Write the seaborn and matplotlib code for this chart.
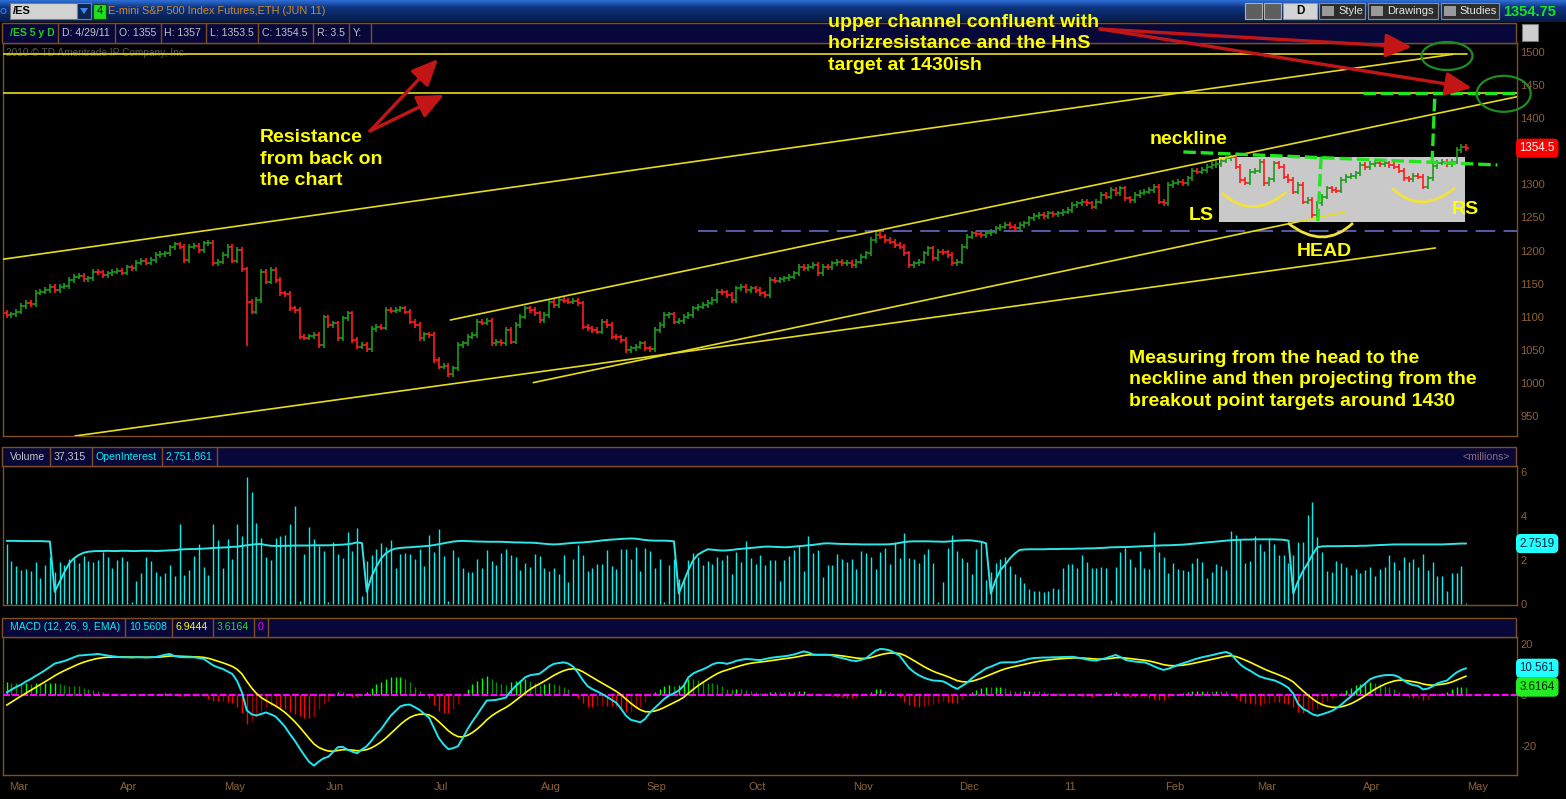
import matplotlib.pyplot as plt
import matplotlib.patches as mpatches
import matplotlib.transforms as mtransforms
from matplotlib.colors import LinearSegmentedColormap
from matplotlib.path import Path
import numpy as np
import pandas as pd
import seaborn as sns

W, H = 1566, 799

# ---------------- data ----------------
month_labels = ["Mar", "Apr", "May", "Jun", "Jul", "Aug", "Sep", "Oct", "Nov", "Dec",
                "11", "Feb", "Mar", "Apr", "May"]
# bars per month, first entry = last Feb 2010 session
month_lengths = [1, 23, 22, 21, 22, 23, 22, 21, 22, 22, 21, 22, 19, 22, 22]

first_open = 1106.0
close = [
    1102.9, 1104.0, 1107.9, 1116.5, 1121.5, 1119.5, 1136.6, 1138.1, 1140.6, 1145.6,
    1140.6, 1145.6, 1146.8, 1155.7, 1160.7, 1161.7, 1156.7, 1158.2, 1168.3, 1167.2,
    1163.2, 1165.7, 1168.3, 1169.8, 1166.8, 1174.8, 1173.3, 1181.8, 1184.8, 1181.8,
    1185.9, 1193.4, 1194.9, 1195.8, 1205.0, 1209.5, 1206.0, 1185.9, 1206.0, 1207.0,
    1201.0, 1211.0, 1212.2, 1180.8, 1183.3, 1193.4, 1206.0, 1184.8, 1201.0, 1171.8,
    1123.0, 1107.9, 1125.5, 1168.3, 1153.2, 1170.8, 1155.7, 1135.6, 1134.4, 1113.0,
    1110.5, 1070.2, 1068.9, 1070.9, 1072.8, 1057.7, 1099.4, 1087.8, 1090.3, 1067.7,
    1097.9, 1105.4, 1065.2, 1055.2, 1057.7, 1051.1, 1081.8, 1085.3, 1084.0, 1110.5,
    1109.3, 1111.2, 1113.0, 1107.9, 1092.9, 1087.8, 1067.7,
    1073.8, 1072.8, 1035.1, 1025.0, 1026.2, 1013.9, 1022.5, 1057.7, 1060.2,
    1070.3, 1072.8, 1092.9, 1091.6, 1093.8, 1060.2, 1062.7, 1060.2, 1080.3, 1062.7,
    1087.9, 1100.4, 1113.0, 1110.5, 1105.4, 1095.4, 1102.9, 1123.0, 1118.0, 1125.6,
    1124.4, 1123.0, 1124.0, 1120.5, 1085.3, 1082.8, 1080.3, 1077.8, 1092.9, 1087.9,
    1070.3, 1069.2, 1065.2, 1050.2, 1052.7, 1055.2, 1060.2, 1052.7, 1051.6, 1080.3,
    1087.9, 1102.9, 1103.9, 1092.9, 1094.1, 1100.4, 1102.9, 1113.0, 1115.5, 1118.0,
    1121.5, 1125.6, 1138.1, 1136.9, 1133.1, 1125.6, 1143.1, 1145.7, 1140.6, 1143.1,
    1140.6, 1135.6, 1133.1, 1155.7, 1154.5, 1156.6, 1158.2, 1160.7, 1165.8, 1175.8,
    1173.3, 1175.8, 1178.3, 1165.8, 1175.8, 1174.6, 1180.8, 1183.4, 1180.8,
    1181.9, 1178.3, 1183.4, 1190.9, 1195.9, 1216.0, 1223.6, 1221.1,
    1216.0, 1213.5, 1208.5, 1206.0, 1195.9, 1178.3, 1180.8, 1183.3, 1195.9, 1203.4,
    1188.4, 1198.4, 1197.2, 1193.4, 1180.8, 1183.3, 1206.0, 1221.0, 1226.1, 1224.9,
    1223.6, 1226.1, 1228.6, 1233.6, 1236.1, 1238.6, 1236.1, 1233.6, 1238.6, 1241.1,
    1248.7, 1252.2, 1253.7, 1252.2, 1256.2, 1255.2, 1256.2, 1258.7, 1261.3, 1268.8,
    1271.3, 1273.8, 1271.3,
    1266.3, 1273.8, 1283.9, 1281.3, 1291.4, 1286.4, 1293.9, 1278.8, 1276.3, 1283.9,
    1287.4, 1288.9, 1291.4, 1296.4, 1273.8, 1271.3, 1298.9, 1302.5, 1304.0, 1301.5,
    1309.0, 1320.6, 1319.0, 1321.6, 1326.6, 1329.1, 1330.6, 1335.6, 1339.2, 1340.7,
    1326.6, 1306.5, 1302.5, 1319.0, 1320.6, 1334.1, 1301.5, 1307.5, 1331.6, 1326.6,
    1311.5, 1306.5, 1288.9, 1298.9, 1273.8, 1276.3, 1253.7, 1271.3, 1281.3, 1293.9,
    1291.4, 1290.2, 1306.5, 1311.5, 1312.5, 1316.5, 1329.1, 1325.6, 1330.6, 1332.6,
    1330.6, 1331.8, 1329.1, 1326.6, 1320.6, 1309.0, 1307.9, 1312.5, 1311.5, 1296.4,
    1309.0, 1327.6, 1332.6, 1333.5, 1330.6, 1334.1, 1351.7, 1356.7, 1354.5,
]
spike_lows = {50: 1056.0}

# volume, millions
volume = [
    2.73, 1.96, 1.73, 1.55, 1.61, 1.51, 1.92, 1.19, 1.76, 2.16,
    1.48, 1.92, 1.76, 2.07, 2.08, 1.86, 2.19, 1.96, 1.90, 2.01,
    2.38, 2.16, 1.64, 2.01, 2.14, 1.98, 0.11, 1.06, 1.40, 2.16,
    1.96, 1.45, 1.28, 1.40, 1.78, 1.30, 3.63, 1.33, 1.55, 2.19,
    2.73, 1.69, 1.33, 3.63, 2.91, 1.64, 2.96, 2.07, 3.63, 3.09,
    5.78, 5.07, 3.70, 3.02, 2.16, 2.01, 2.99, 3.09, 3.12, 3.63,
    4.45, 0.17, 2.28, 3.48, 2.97, 2.64, 2.43, 0.11, 2.82, 2.28,
    2.11, 3.27, 2.43, 3.44, 0.38, 1.98, 2.25, 2.50, 2.76, 2.58,
    2.91, 1.66, 2.28, 2.32, 2.28, 2.05, 2.50, 1.73, 3.14, 2.37,
    3.41, 2.17, 0.15, 2.46, 2.16, 1.64, 1.45, 1.45, 2.05, 1.64,
    2.46, 1.98, 1.78,
    2.33, 2.49, 2.23, 2.14, 1.55, 1.85, 1.69, 2.28, 2.17, 1.64,
    1.51, 1.64, 1.37, 2.23, 1.01, 2.05, 2.68, 2.23, 1.51, 1.64,
    1.82, 1.82, 2.46, 1.73, 1.60, 2.50, 2.50, 2.05, 2.59, 1.51,
    2.55, 2.41, 1.64, 2.05, 0.10, 1.78, 2.05, 1.14, 1.19, 2.01,
    2.32, 2.14, 1.78, 1.96, 1.82, 2.14, 2.01, 2.23, 1.37, 2.37,
    1.91, 2.86, 2.09, 1.82, 2.23, 1.78, 2.01, 2.01, 1.05, 2.01,
    2.19, 2.46, 2.68, 1.51, 3.09, 2.32, 2.46, 1.24, 1.78, 1.78,
    2.28, 2.05, 1.91, 2.05, 1.60, 2.41, 2.32, 2.14, 1.60, 2.37,
    2.55, 1.82, 2.82, 2.09, 3.22, 2.09, 2.05, 1.87, 2.28, 2.50,
    1.87, 0.10, 1.01, 2.55, 3.14, 2.41, 2.09, 1.91, 1.37, 2.50,
    2.82, 1.10,
    1.46, 1.87, 2.05, 2.14, 1.73, 1.37, 1.24, 0.96, 0.69, 0.60,
    0.60, 0.56, 0.60, 0.74, 0.69, 1.64, 1.82, 1.82, 1.64, 2.23,
    1.91, 1.64, 1.64, 1.69, 1.64, 0.20, 1.69, 2.37, 2.55, 2.05,
    1.69, 2.41, 1.64, 1.60, 3.27, 2.37, 2.14, 1.42, 1.87, 1.60,
    1.55, 1.51, 1.87, 2.09, 1.91, 1.19, 1.46, 1.82, 1.73, 1.55,
    3.32, 3.14, 2.96, 1.87, 1.96, 3.09, 2.73, 2.41, 3.00, 2.73,
    2.23, 2.23, 1.87, 2.23, 2.82,
    2.84, 4.04, 4.65, 3.06, 2.38, 1.52, 1.46, 1.98, 1.89, 1.70,
    1.34, 1.61, 1.43, 1.55, 1.70, 1.28, 1.61, 1.70, 2.23, 1.93,
    1.57, 2.14, 1.93, 2.07, 1.70, 2.28, 1.55, 1.92, 1.28, 1.28,
    0.60, 1.43, 1.43, 1.73, 0.037,
]

# open interest, millions
open_interest = [
    2.87, 2.87, 2.87, 2.86, 2.86, 2.86, 2.86, 2.86, 2.85, 2.84,
    0.57, 1.00, 1.45, 1.85, 2.08, 2.23, 2.33, 2.38, 2.40, 2.41,
    2.41, 2.42, 2.41, 2.41, 2.42, 2.42, 2.41, 2.41, 2.42, 2.42,
    2.42, 2.41, 2.42, 2.43, 2.44, 2.45, 2.48, 2.49, 2.50, 2.50,
    2.51, 2.52, 2.53, 2.55, 2.56, 2.57, 2.58, 2.60, 2.61, 2.64,
    2.67, 2.70, 2.72, 2.73, 2.68, 2.65, 2.64, 2.64, 2.65, 2.65,
    2.66, 2.66, 2.66, 2.66, 2.67, 2.67, 2.67, 2.67, 2.68, 2.69,
    2.70, 2.72, 2.75, 2.80, 2.77, 0.57, 1.25, 1.70, 2.08, 2.31,
    2.45, 2.52, 2.55, 2.57, 2.58, 2.60, 2.61, 2.63, 2.65, 2.68,
    2.72, 2.76, 2.80, 2.84, 2.86, 2.87, 2.86, 2.85, 2.84, 2.84,
    2.83, 2.83, 2.83,
    2.83, 2.82, 2.81, 2.80, 2.80, 2.79, 2.79, 2.78,
    2.76, 2.74, 2.72, 2.71, 2.72, 2.74, 2.76, 2.78,
    2.79, 2.80, 2.82, 2.84, 2.86, 2.89, 2.91, 2.93, 2.94, 2.96, 2.97, 2.98, 2.97,
    2.94, 2.91, 2.89, 2.88, 2.88, 2.88, 2.87,
    2.85, 0.49, 1.02, 1.55, 2.00, 2.25, 2.38, 2.49,
    2.47, 2.45, 2.43, 2.44, 2.46, 2.49, 2.51, 2.53, 2.55, 2.57, 2.59, 2.61, 2.61, 2.60,
    2.59, 2.58, 2.59, 2.61, 2.63, 2.65, 2.67, 2.69, 2.72, 2.75, 2.76, 2.75, 2.74, 2.73, 2.73,
    2.72, 2.72, 2.71, 2.71, 2.71, 2.71, 2.71, 2.71, 2.72, 2.74, 2.78, 2.82, 2.84, 2.85, 2.85,
    2.85, 2.85, 2.84, 2.84, 2.83, 2.84, 2.86, 2.88, 2.89, 2.90, 2.89, 2.86, 2.83,
    2.76, 0.49, 1.10, 1.55, 1.80, 2.08, 2.30, 2.46,
    2.48, 2.49, 2.49, 2.49, 2.49, 2.50, 2.50, 2.50, 2.51, 2.51,
    2.51, 2.52, 2.52, 2.53, 2.53, 2.54, 2.55, 2.56, 2.58,
    2.58, 2.59, 2.59, 2.60, 2.61, 2.62, 2.63, 2.64, 2.65, 2.66,
    2.67, 2.67, 2.68, 2.69, 2.70, 2.72, 2.74, 2.76, 2.78, 2.80,
    2.82, 2.84, 2.86, 2.88, 2.90, 2.91, 2.92, 2.93, 2.93, 2.94,
    2.94, 2.94, 2.94, 2.94, 2.93, 2.92,
    2.88, 0.49, 1.05, 1.50, 1.85, 2.25, 2.58,
    2.62, 2.63, 2.63, 2.63, 2.63, 2.64, 2.64, 2.64, 2.65, 2.65,
    2.66, 2.67, 2.68, 2.69, 2.70, 2.71, 2.71, 2.71, 2.71, 2.71,
    2.71, 2.71, 2.71, 2.71, 2.71, 2.71, 2.72, 2.73, 2.74, 2.75, 2.75,
]

# MACD line (12, 26, 9, EMA) as plotted
macd = [
    1.0, 2.1, 3.2, 4.1, 5.3, 6.3, 7.5, 8.6, 9.8, 11.1,
    12.4, 12.9, 13.4, 14.1, 14.9, 15.6, 15.7, 15.9, 16.0, 16.2,
    15.9, 15.6, 15.3, 15.1, 14.9, 14.9, 14.8, 14.9, 14.9, 14.8,
    14.9, 15.0, 15.4, 15.9, 16.2, 15.3, 15.0, 14.9, 14.9, 14.9,
    14.6, 14.3, 13.0, 11.7, 10.9, 10.3, 9.3, 8.3, 5.5, 1.0,
    -6.0, -7.6, -8.1, -7.5, -6.9, -7.6, -8.5, -10.5, -12.6, -15.5,
    -18.0, -21.0, -23.8, -26.4, -27.9, -26.3, -25.0, -24.4, -22.5, -20.6,
    -20.5, -21.6, -22.4, -23.0, -21.5, -20.2, -18.0, -15.5, -13.5, -10.8,
    -8.2, -6.3, -4.5, -3.9, -3.8, -4.8, -5.9, -7.5, -9.0, -13.0,
    -17.0, -19.5, -21.4, -21.0, -20.2, -17.0, -13.5, -10.5, -7.8, -4.9,
    -2.2, -2.1, -1.9, -1.5, -1.0, 1.5, 3.5, 5.2, 7.0, 7.8,
    8.1, 8.4, 9.8, 11.3, 12.3, 12.6, 12.9, 12.4, 11.2, 8.8,
    5.9, 3.5, 2.3, 1.4, 0.4, -0.7, -1.9, -3.1, -5.5, -8.2,
    -9.8, -10.3, -10.8, -9.4, -6.9, -5.1, -3.3, -1.5, -0.2, 0.7,
    1.8, 3.6, 7.0, 8.5, 9.4, 10.1, 11.0, 12.1, 12.7, 12.7,
    12.3, 12.8, 13.5, 13.9, 14.2, 14.1, 13.9, 13.8, 14.2, 14.6,
    14.9, 15.1, 15.3, 15.6, 16.0, 16.6, 17.2, 16.8, 16.0, 15.9,
    15.9, 15.9, 15.6, 15.0, 14.6, 14.1, 13.6, 13.4, 13.9, 14.5,
    16.0, 17.5, 18.2, 18.0, 17.6, 16.6, 15.5, 13.0, 10.6, 9.0,
    7.8, 6.9, 6.2, 5.7, 5.6, 5.4, 4.5, 3.3, 2.4, 3.6,
    4.8, 6.5, 8.0, 9.2, 10.5, 11.2, 12.0, 12.8, 12.9, 12.9,
    12.9, 13.3, 13.8, 14.3, 14.6, 14.7, 14.8, 14.8, 14.9, 14.9,
    15.0, 15.0, 15.1, 14.8, 14.4, 14.0, 13.7, 13.6, 14.1, 14.6,
    15.2, 15.8, 15.0, 13.9, 13.5, 13.2, 13.0, 12.9, 12.2, 11.3,
    10.5, 9.9, 10.4, 11.1, 11.9, 12.5, 13.1, 13.8, 14.4, 14.9,
    15.3, 15.7, 16.2, 16.6, 17.0, 16.2, 14.0, 12.0, 10.6, 9.6,
    8.4, 7.3, 6.7, 6.2, 5.8, 5.0, 4.0, 2.8, 0.5, -3.5,
    -5.4, -6.4, -7.6, -8.2, -7.6, -7.0, -6.3, -5.2, -3.8, -2.1,
    -0.6, 1.3, 2.9, 4.6, 6.2, 7.0, 7.5, 7.8, 7.9, 7.8,
    7.1, 5.7, 4.6, 3.9, 3.6, 2.2, 2.5, 3.4, 4.6, 5.2,
    5.7, 7.4, 8.9, 9.9, 10.56,
]
signal_start = -4.0   # yellow average where the chart begins

price_ticks = [950, 1000, 1050, 1100, 1150, 1200, 1250, 1300, 1400, 1450, 1500]

n = len(close)
assert len(volume) == n and len(open_interest) == n and len(macd) == n, \
    (n, len(volume), len(open_interest), len(macd))

# hand drawn studies on the price pane, (bar, price) end points
trendlines = [
    ((-0.8, 1187.0), (301.3, 1496.1)),
    ((92.4, 1095.4), (314.6, 1432.1)),
    ((14.2, 920.5), (297.6, 1204.0)),
    ((109.7, 1001.0), (278.8, 1258.5)),
    ((-0.8, 1496.1), (304.2, 1496.1)),
    ((-0.8, 1437.3), (314.6, 1437.3)),
]
green_dashes = [
    ((245.1, 1348.8), (310.5, 1329.2)),
    ((273.8, 1341.7), (273.1, 1241.7)),
    ((296.9, 1331.7), (297.5, 1437.3)),
    ((282.6, 1438.2), (314.6, 1438.2)),
]

# ---------------- frame ----------------
sns.set_theme(style="dark")
plt.rcParams["font.family"] = ["Liberation Sans", "DejaVu Sans"]
plt.rcParams["lines.scale_dashes"] = False
plt.rcParams["axes.unicode_minus"] = False

BROWN = "#7d4f22"
BROWN_TXT = "#8e6236"
NAVY = "#07073a"
CYAN = "#00f0f0"

fig = plt.figure(figsize=(W / 100, H / 100), dpi=100)
fig.patch.set_facecolor("black")
pix = mtransforms.Affine2D().scale(1 / W, -1 / H).translate(0, 1) + fig.transFigure


def add_ax(left, top, right, bottom):
    return fig.add_axes([left / W, 1 - bottom / H, (right - left) / W, (bottom - top) / H])


ax_p = add_ax(3, 43, 1517, 436)
ax_v = add_ax(3, 466, 1517, 604.5)
ax_m = add_ax(3, 637, 1517, 775)

df = pd.DataFrame({"bar": np.arange(n), "close": close, "volume": volume,
                   "oi": open_interest, "macd": macd})
df["open"] = df["close"].shift(1).fillna(first_open)
df["high"] = df[["open", "close"]].max(axis=1) + 4.0
df["low"] = df[["open", "close"]].min(axis=1) - 4.0
for k, v in spike_lows.items():
    df.loc[k, "low"] = v
bar_col = np.where(df["close"] > df["open"], "#1f9a1f",
                   np.where(df["close"] < df["open"], "#ff1c1c", "#c8c8c8"))

# price pane
ax_p.vlines(df["bar"], df["low"], df["high"], colors=bar_col, lw=1.2, zorder=3)
ax_p.hlines(df["open"], df["bar"] - 0.5, df["bar"], colors=bar_col, lw=1.2, zorder=3)
ax_p.hlines(df["close"], df["bar"], df["bar"] + 0.5, colors=bar_col, lw=1.2, zorder=3)

ax_p.add_patch(mpatches.Rectangle((252.6, 1242.7), 51.2, 98.1, fc="#c9c9c9", ec="none", zorder=1))
for (x0, y0), (x1, y1) in trendlines:
    ax_p.plot([x0, x1], [y0, y1], color="#e8dc1a", lw=1.2, zorder=4)
ax_p.plot([144, 314.6], [1229.6, 1229.6], color="#7272d8", lw=1.1, ls=(0, (14, 6)), zorder=2)
for (x0, y0), (x1, y1) in green_dashes:
    ax_p.plot([x0, x1], [y0, y1], color="#1fe61f", lw=2.4, ls=(0, (9, 3.5)), zorder=5)
ax_p.text(6, 53, "2010 \u00a9 TD Ameritrade IP Company, Inc.", transform=pix, color="#555555",
          fontsize=7.3, va="center", ha="left", zorder=1)
ax_p.set_xlim(-0.77, 314.6)
ax_p.set_ylim(920.5, 1513.1)
ax_p.set_yticks(price_ticks)

# volume pane
ax_v.vlines(df["bar"], 0, df["volume"], colors=CYAN, lw=1.0, zorder=2)
sns.lineplot(data=df, x="bar", y="oi", ax=ax_v, color="#2ee6e6", lw=1.4, zorder=3)
ax_v.set_ylim(-0.01, 6.26)
ax_v.set_yticks([0, 2, 4, 6])

# MACD pane: 9 period EMA of the MACD line, seeded with the first plotted average
alpha = 2 / (9 + 1)
sig = [signal_start]
for v in macd[1:]:
    sig.append(sig[-1] + alpha * (v - sig[-1]))
df["signal"] = sig
df["diff"] = df["macd"] - df["signal"]
rising = df["diff"].diff().fillna(0) >= 0
hist_col = np.where(df["diff"] >= 0, np.where(rising, "#00ff00", "#0a8a0a"),
                    np.where(rising, "#9a0000", "#ff0000"))
ax_m.vlines(df["bar"], 0, df["diff"], colors=hist_col, lw=1.0, zorder=2)
ax_m.axhline(0, color="#ff00ff", lw=1.5, ls=(0, (5, 1.5)), zorder=3)
sns.lineplot(data=df, x="bar", y="signal", ax=ax_m, color="#ffff00", lw=1.2, zorder=4)
sns.lineplot(data=df, x="bar", y="macd", ax=ax_m, color="#1ee6f0", lw=1.4, zorder=5)
ax_m.set_ylim(-31.6, 22.9)
ax_m.set_yticks([-20, 0, 20])
month_pos = np.cumsum(month_lengths) + 1.4
ax_m.set_xticks(month_pos)
ax_m.set_xticklabels(month_labels)

for ax in (ax_p, ax_v, ax_m):
    ax.set_facecolor("black")
    ax.set_xlim(-0.77, 314.6)
    ax.set_xlabel("")
    ax.set_ylabel("")
    ax.grid(False)
    for s in ax.spines.values():
        s.set_color(BROWN)
        s.set_linewidth(1.0)
    ax.yaxis.tick_right()
    ax.tick_params(axis="y", length=0, pad=2.5, labelcolor=BROWN_TXT, labelsize=8)
    ax.tick_params(axis="x", length=0, labelbottom=False)
ax_m.tick_params(axis="x", labelbottom=True, labelcolor=BROWN_TXT, labelsize=8, pad=5)

# last value tags
blend = lambda ax: mtransforms.blended_transform_factory(ax.transAxes, ax.transData)
tags = [(ax_p, df["close"].iloc[-1], "1354.5", "#ff0000", "white"),
        (ax_v, df["oi"].iloc[-1], "2.7519", "#22ffff", "#002040"),
        (ax_m, df["macd"].iloc[-1], "10.561", "#22ffff", "#002040"),
        (ax_m, df["diff"].iloc[-1], "3.6164", "#22ee22", "#002000")]
for ax, yv, txt, bg, fg in tags:
    ax.text(1.0017, yv, txt, transform=blend(ax), ha="left", va="center", fontsize=8.3,
            color=fg, clip_on=False, zorder=20,
            bbox=dict(boxstyle="round,pad=0.25,rounding_size=0.35", fc=bg, ec=bg))

# ---------------- overlay: platform chrome + annotations ----------------
ov = fig.add_axes([0, 0, 1, 1], zorder=10)
ov.patch.set_alpha(0)
bar_cmap = LinearSegmentedColormap.from_list("tb", ["#2f6fd6", "#0d3581", "#0a2764", "#071b47"])
ov.imshow(np.linspace(0, 1, 60).reshape(-1, 1), extent=(0, W, 22, 0), cmap=bar_cmap,
          aspect="auto", zorder=0)


def box(x0, y0, x1, y1, fc, ec=BROWN, lw=1.0, z=1):
    ov.add_patch(mpatches.Rectangle((x0, y0), x1 - x0, y1 - y0, fc=fc, ec=ec, lw=lw, zorder=z))


def label(x, y, s, color="#c4c4c4", size=7.6, weight="normal", ha="left"):
    ov.text(x, y, s, color=color, fontsize=size, fontweight=weight, ha=ha, va="center", zorder=6)


# title bar
ov.add_patch(mpatches.Circle((3.5, 11), 2.5, fc="none", ec="#3d78d8", lw=0.8, zorder=2))
box(10, 3, 77, 19, "#d2d2d2", ec="#7a7a7a", lw=0.8, z=2)
label(13, 11.5, "/ES", color="black", size=8, weight="bold")
box(77, 3, 91, 19, "#0d2552", ec="#5a86cf", lw=0.8, z=2)
ov.add_patch(mpatches.Polygon([[80, 8], [88, 8], [84, 14]], closed=True, fc="#3f86f0", ec="none", zorder=3))
box(93, 4, 106, 19, "#22dd22", ec="#0a4a0a", lw=0.8, z=2)
label(99.5, 11.5, "4", color="black", size=8, ha="center")
label(108.5, 11.5, "E-mini S&P 500 Index Futures,ETH (JUN 11)", color="#d08a2c", size=7.8)
for x0, x1 in [(1245, 1262), (1264, 1281)]:
    box(x0, 3, x1, 19, "#5e5e5e", ec="#b0b0b0", lw=0.8, z=2)
box(1283, 3, 1317, 19, "#d4d4d4", ec="#9a9a9a", lw=0.8, z=2)
label(1300, 11.5, "D", color="black", size=8.5, weight="bold", ha="center")
for x0, x1, t, tx in [(1319, 1365, "Style", 1338), (1368, 1438, "Drawings", 1387),
                      (1441, 1499, "Studies", 1459)]:
    box(x0, 3, x1, 19, "#2c2c2c", ec="#8c8c8c", lw=0.8, z=2)
    box(x0 + 3, 6, x0 + 15, 16, "#9a9a9a", ec="none", z=3)
    label(tx, 11.5, t, color="#e6e6e6", size=8)
label(1503, 11.5, "1354.75", color="#1ee01e", size=10.5, weight="bold")

# pane header strips
box(1.7, 23.3, 1516, 42.7, NAVY)
label(10, 33, "/ES 5 y D", color="#22cc22", weight="bold")
for x, t in [(62, "D: 4/29/11"), (119, "O: 1355"), (164, "H: 1357"), (210, "L: 1353.5"),
             (262, "C: 1354.5"), (317, "R: 3.5"), (353, "Y:")]:
    label(x, 33, t)
for x in [58.3, 115, 160.7, 206, 258.3, 313.3, 349.3, 371]:
    ov.plot([x, x], [23.3, 42.7], color=BROWN, lw=1.0, zorder=2)
box(1522, 24, 1538, 41, "#cfcfcf", ec="#777777", lw=0.8)

box(1.7, 446.7, 1516, 466.2, NAVY)
label(10, 456.5, "Volume")
label(54, 456.5, "37,315")
label(95, 456.5, "OpenInterest", color=CYAN)
label(165, 456.5, "2,751,861", color=CYAN)
label(1510, 456.5, "<millions>", color="#8c6c78", ha="right")
for x in [50, 91.7, 161.7, 217.3]:
    ov.plot([x, x], [446.7, 466.2], color=BROWN, lw=1.0, zorder=2)

box(1.7, 617.7, 1516, 636.8, NAVY)
label(10, 627.5, "MACD (12, 26, 9, EMA)", color=CYAN)
label(129, 627.5, "10.5608", color=CYAN)
label(175, 627.5, "6.9444", color="#ffff00")
label(217, 627.5, "3.6164", color="#22dd22")
label(258, 627.5, "0", color="#ff00ff")
for x in [125, 171.7, 212.7, 254.3, 268.3]:
    ov.plot([x, x], [617.7, 636.8], color=BROWN, lw=1.0, zorder=2)

# head and shoulders arcs
arc_pts = [((1222, 193), (1253, 221), (1286, 192)),
           ((1288, 223), (1323.5, 251), (1353, 223)),
           ((1392, 188), (1420.5, 216), (1455, 188))]
for a, c, b in arc_pts:
    ov.add_patch(mpatches.PathPatch(Path([a, c, b], [Path.MOVETO, Path.CURVE3, Path.CURVE3]),
                                    fc="none", ec="#f3e23c", lw=2.0, zorder=4))

# circles around targets
ov.add_patch(mpatches.Ellipse((1447, 56), 51, 28, fc="none", ec="#1f8c1f", lw=1.6, zorder=5))
ov.add_patch(mpatches.Ellipse((1503.7, 93.8), 54, 36, fc="none", ec="#1f8c1f", lw=1.6, zorder=5))

# red arrows
RED = "#c21616"
for (x0, y0), (x1, y1) in [((370, 131), (438, 59)), ((370, 131), (444, 95)),
                           ((1100, 29), (1412, 47)), ((1100, 29), (1472, 88))]:
    ov.add_patch(mpatches.FancyArrowPatch((x0, y0), (x1, y1),
                                          arrowstyle="-|>,head_length=1.0,head_width=0.45",
                                          mutation_scale=16, color=RED, lw=2.4, zorder=6,
                                          shrinkA=0, shrinkB=0))

# yellow notes
note = dict(color="#ffff00", fontsize=14, fontweight="bold", ha="left", va="center",
            linespacing=1.38, zorder=7)
ov.text(828, 44, "upper channel confluent with\nhorizresistance and the HnS\ntarget at 1430ish", **note)
ov.text(260, 159, "Resistance\nfrom back on\nthe chart", **note)
ov.text(1150, 139, "neckline", **note)
ov.text(1189, 215, "LS", **note)
ov.text(1452, 210, "RS", **note)
ov.text(1297, 251, "HEAD", **note)
ov.text(1129, 380, "Measuring from the head to the\nneckline and then projecting from the\n"
        "breakout point targets around 1430", **note)

ov.set_xlim(0, W)
ov.set_ylim(H, 0)
ov.axis("off")

fig.savefig("out.png", dpi=100, facecolor="black")
